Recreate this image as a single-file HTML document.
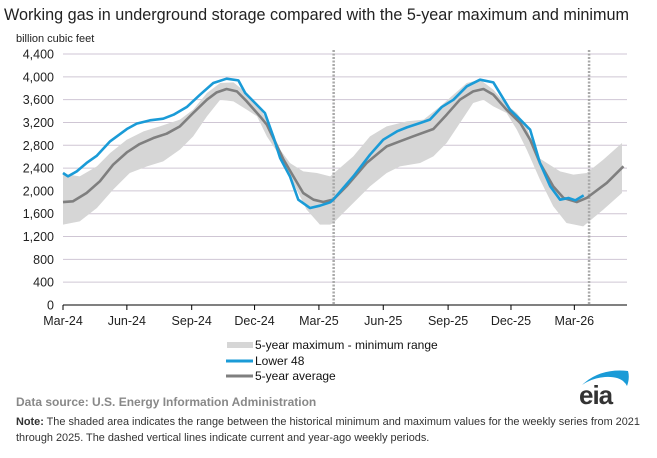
<!DOCTYPE html>
<html><head><meta charset="utf-8"><style>
body{margin:0;background:#fff;font-family:"Liberation Sans",sans-serif;}
#c{position:relative;width:657px;height:458px;overflow:hidden;}
</style></head><body>
<div id="c">
<svg id="s" width="657" height="458" xmlns="http://www.w3.org/2000/svg">
<text x="4" y="20" font-size="16.2" fill="#222">Working gas in underground storage compared with the 5-year maximum and minimum</text>
<text x="16" y="42" font-size="11" fill="#222">billion cubic feet</text>
<g id="grid"></g><g id="band"></g><g id="lines"></g><g id="axes"></g>
<g>
<rect x="227" y="342" width="26" height="6" fill="#d6d6d6"/>
<text x="255" y="349" font-size="12" fill="#111">5-year maximum - minimum range</text>
<line x1="226" y1="361" x2="253" y2="361" stroke="#1a9bd7" stroke-width="3"/>
<text x="255" y="365" font-size="12" fill="#111">Lower 48</text>
<line x1="226" y1="376" x2="253" y2="376" stroke="#7f7f7f" stroke-width="3"/>
<text x="255" y="380" font-size="12" fill="#111">5-year average</text>
</g>
<text x="16" y="406" font-size="12" font-weight="bold" fill="#888">Data source:  U.S. Energy Information Administration</text>
<text x="16" y="425" font-size="10.9" fill="#333"><tspan font-weight="bold">Note:</tspan> The shaded area indicates the range between the historical minimum and maximum values for the weekly series from 2021</text>
<text x="16" y="441" font-size="10.9" fill="#333">through 2025. The dashed vertical lines indicate current and year-ago weekly periods.</text>
<g>
<path d="M582 385 Q600 368 628 371 Q630 378 627 386 Q622 376 605 377 Q592 378 582 385Z" fill="#1a9bd7"/>
<text x="579" y="404" font-size="26" font-weight="bold" fill="#333" letter-spacing="-1">eia</text>
</g>
</svg>
</div>
<script>
const yTicks=[0,400,800,1200,1600,2000,2400,2800,3200,3600,4000,4400];
const xTickLabels=["Mar-24","Jun-24","Sep-24","Dec-24","Mar-25","Jun-25","Sep-25","Dec-25","Mar-26"];
const xTickWeeks=[0,13,26.2,39,52.1,65.2,78.4,91.2,104.1];
const dashedWeeks=[55.1,107.1];
const lowerWeeks=[0,1,2.8,4.8,6.9,9.6,13,15,17.7,20.4,22.5,25.2,27.9,30.6,33.3,35.7,37.1,39.1,41.1,42.8,44.2,46.2,47.9,50.3,52.3,54.4,55,59.1,62.5,65.2,68,70,72.7,74.7,77.1,79.5,82.2,84.9,87.6,91,93.1,95.1,97.1,99.2,101.2,102.9,104.3,106];
const lowerValues=[2314,2255,2343,2490,2618,2870,3085,3180,3237,3266,3336,3470,3687,3891,3967,3938,3716,3541,3366,2957,2577,2255,1846,1700,1741,1800,1846,2255,2635,2898,3044,3114,3190,3249,3470,3599,3833,3950,3903,3424,3249,3073,2489,2080,1846,1876,1835,1922];
const avgWeeks=[0,2,4.8,7.5,10.2,13,15.6,18.4,21.1,23.8,26.5,29.3,31.3,33.3,35.4,37.4,40.1,41.5,42.8,44.9,46.9,48.9,51,53,54.4,55,57.7,61.8,65.9,68.6,71.3,75.4,78.1,80.8,83.5,85.6,87.6,90.3,93.1,95.1,97.1,99.8,101.9,104.6,106.6,110.7,114.1];
const avgValues=[1805,1817,1963,2168,2460,2676,2822,2927,3003,3132,3366,3599,3728,3786,3745,3570,3307,3161,2927,2548,2255,1963,1846,1805,1835,1846,2080,2489,2781,2869,2957,3085,3336,3599,3745,3786,3687,3424,3190,2898,2489,2080,1876,1805,1876,2139,2431];
const maxWeeks=[0,3.4,6.9,9.6,13,16.4,19.7,23.8,26.5,29.3,32,34.7,37.4,40.1,42.2,44.2,46.2,48.9,51.7,54.4,59.1,62.5,65.9,70,73.4,76.8,79.5,82.2,84.9,87.6,90.3,92.4,94.4,96.4,98.5,101.2,103.9,106.6,110,113.8];
const maxValues=[2300,2255,2430,2664,2898,3044,3132,3249,3424,3716,3891,3903,3716,3453,3132,2723,2489,2343,2314,2255,2606,2957,3132,3219,3249,3482,3687,3891,3950,3775,3512,3366,3132,2606,2489,2343,2285,2314,2548,2840];
const minWeeks=[0,3.4,6.9,10.2,13.6,17.1,20.4,23.8,26.5,29.3,32,34.7,37.4,39.5,41.5,44.2,46.9,49.6,52.3,54.4,55,59.1,62.5,65.9,68.6,72.7,75.4,78.1,80.8,83.5,85.6,87.6,90.3,92.4,94.4,97.1,99.8,102.5,105.9,110,113.8];
const minValues=[1408,1467,1700,2022,2314,2431,2518,2723,2957,3307,3599,3570,3424,3307,2957,2606,2139,1671,1408,1408,1437,1788,2080,2314,2431,2489,2606,2840,3190,3541,3599,3482,3366,3073,2723,2197,1730,1437,1379,1671,1963];

const NS="http://www.w3.org/2000/svg";
const X0=63,X1=627,PXW=4.912,Y0=305,Y1=54,YMAX=4400;
const xs=w=>X0+w*PXW;
const ys=v=>Y0-(v/YMAX)*(Y0-Y1);
function mk(t,a,p){const e=document.createElementNS(NS,t);for(const k in a)e.setAttribute(k,a[k]);p.appendChild(e);return e;}
const grid=document.getElementById('grid'),axes=document.getElementById('axes'),band=document.getElementById('band'),lines=document.getElementById('lines');
yTicks.forEach(v=>{
 if(v>0){const g=mk('line',{x1:X0,x2:X1,y1:ys(v),y2:ys(v),stroke:'#cfc6d4','stroke-width':1},grid);
 
 }
 const t=mk('text',{x:54,y:ys(v)+4.5,'font-size':12.5,'text-anchor':'end',fill:'#222'},axes);t.textContent=v.toLocaleString('en-US');
 
 
});
let d='M'+maxWeeks.map((w,i)=>xs(w)+','+ys(maxValues[i])).join('L');
for(let i=minWeeks.length-1;i>=0;i--)d+='L'+xs(minWeeks[i])+','+ys(minValues[i]);
const bp=mk('path',{d:d+'Z',fill:'#d6d6d6'},band);


dashedWeeks.forEach(w=>{const l=mk('line',{x1:xs(w),x2:xs(w),y1:Y1-4,y2:Y0,stroke:'#aaa','stroke-width':2.5,'stroke-dasharray':'2,1.5'},band);
 
 });
const ap=mk('polyline',{points:avgWeeks.map((w,i)=>xs(w)+','+ys(avgValues[i])).join(' '),fill:'none',stroke:'#7f7f7f','stroke-width':2.6,'stroke-linejoin':'round'},lines);


const lp=mk('polyline',{points:lowerWeeks.map((w,i)=>xs(w)+','+ys(lowerValues[i])).join(' '),fill:'none',stroke:'#1a9bd7','stroke-width':2.6,'stroke-linejoin':'round'},lines);


const ax=mk('line',{x1:X0,x2:X1,y1:Y0,y2:Y0,stroke:'#000','stroke-width':1},axes);


xTickWeeks.forEach((w,i)=>{
 const tk=mk('line',{x1:xs(w),x2:xs(w),y1:Y0,y2:Y0+5,stroke:'#000'},axes);
 
 
 const t=mk('text',{x:xs(w),y:Y0+20,'font-size':12.5,'text-anchor':'middle',fill:'#222'},axes);t.textContent=xTickLabels[i];
 
 
});
</script>
</body></html>
